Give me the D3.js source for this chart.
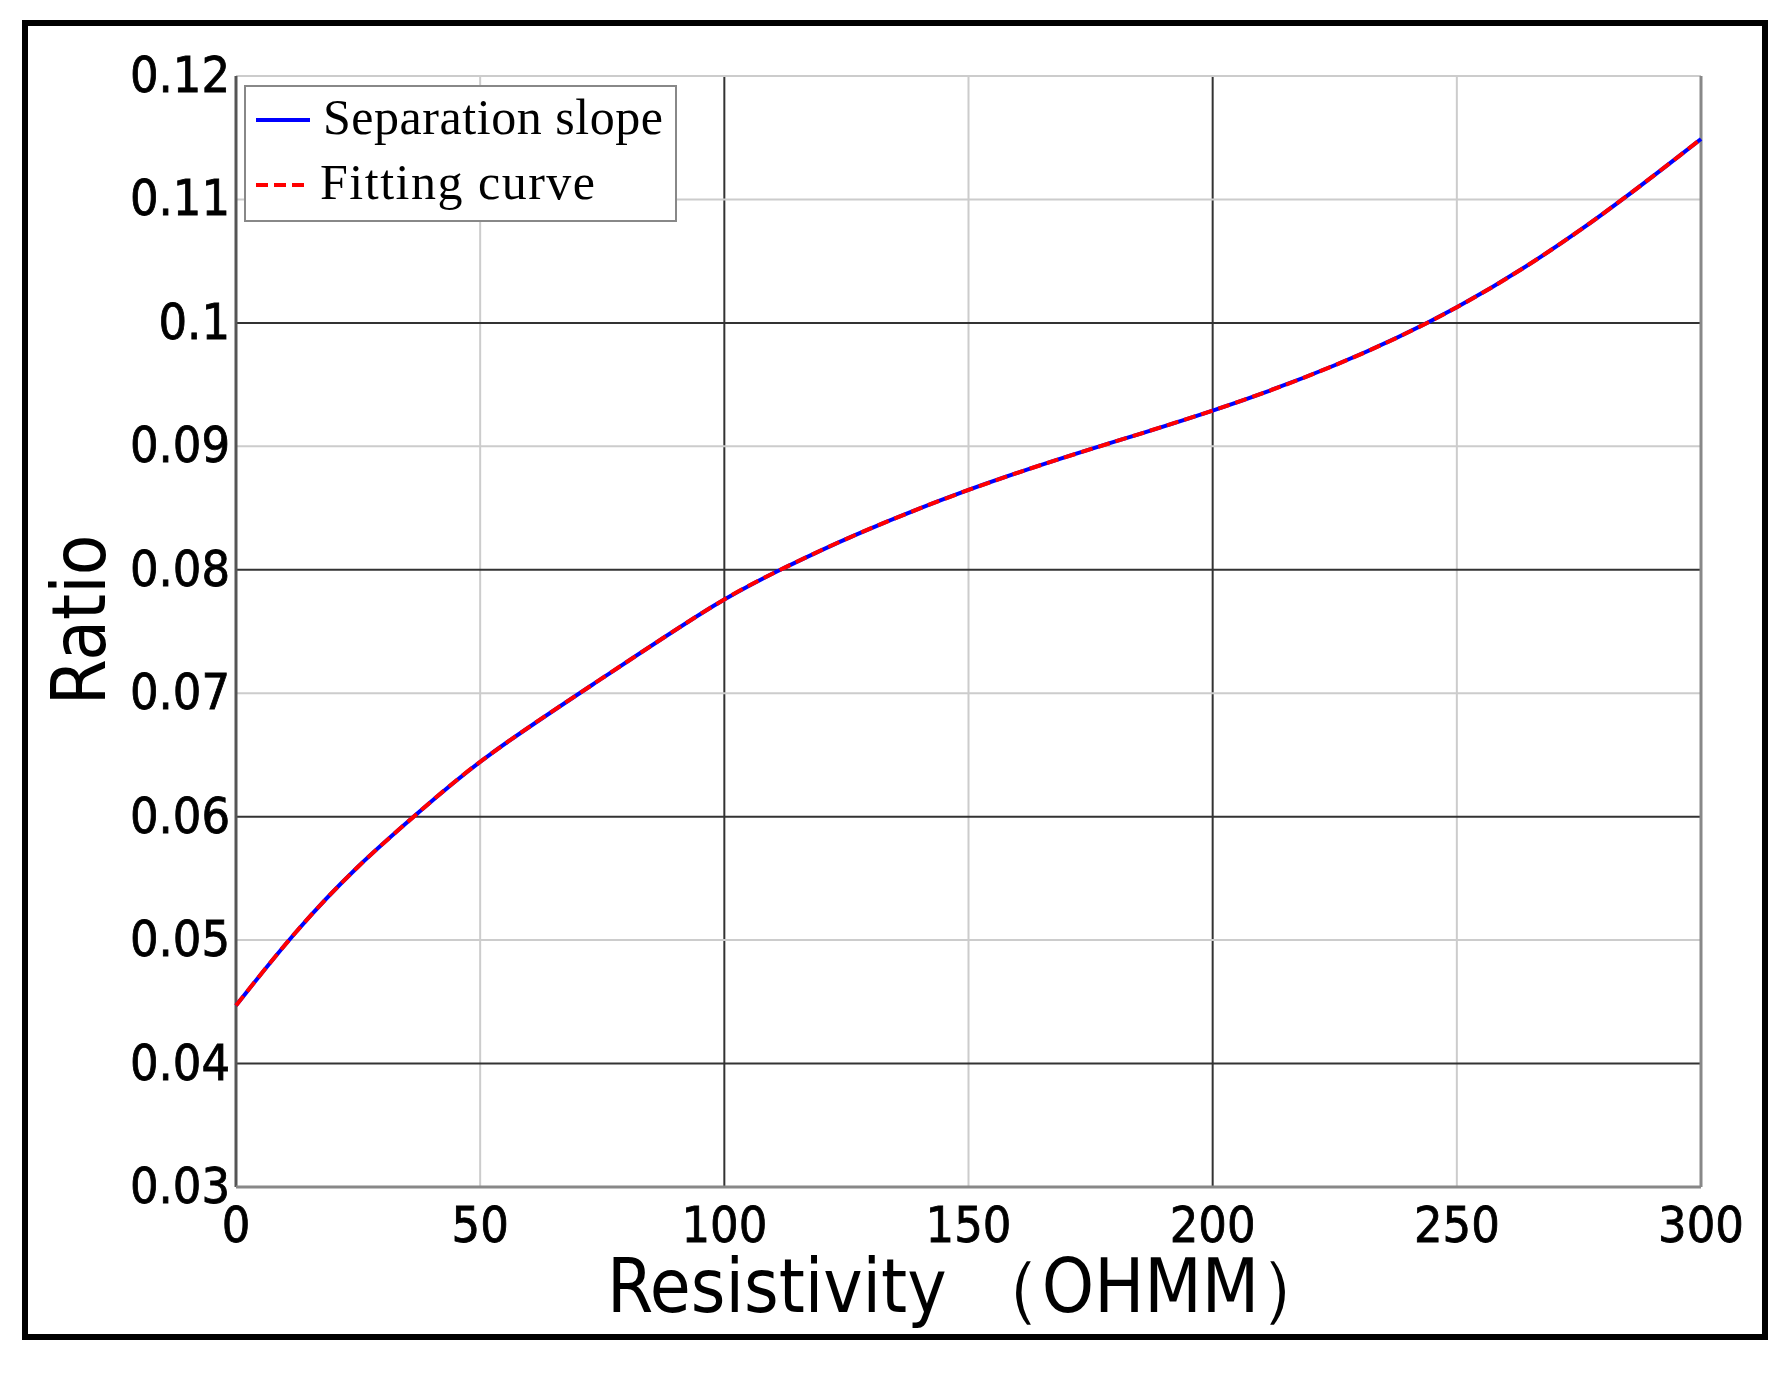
<!DOCTYPE html>
<html><head><meta charset="utf-8">
<script src="https://cdn.jsdelivr.net/npm/d3@7"></script>
<style>body{margin:0;background:#fff}</style></head>
<body><svg id="c" width="1790" height="1375"></svg>
<script>
const resistivity=[0,12,25,37,50,75,100,112,125,150,175,200,225,250,275,300];
const slope=[0.0447,0.0507,0.0561,0.0602,0.0647,0.0712,0.0778,0.0801,0.0826,0.0866,0.0898,0.0928,0.0964,0.1010,0.1072,0.1149];
const fitting=slope.slice();
const xTicks=[0,50,100,150,200,250,300];
const yTicks=[0.03,0.04,0.05,0.06,0.07,0.08,0.09,0.1,0.11,0.12];
const svg=d3.select("#c");
svg.append("rect").attr("x",25).attr("y",23).attr("width",1740).attr("height",1314).attr("fill","none").attr("stroke","#000").attr("stroke-width",6);
const L=236,R=1701,T=76,B=1187;
const x=d3.scaleLinear().domain([0,300]).range([L,R]);
const y=d3.scaleLinear().domain([0.03,0.12]).range([B,T]);
const g=svg.append("g");
xTicks.forEach(t=>{g.append("line").attr("x1",x(t)).attr("x2",x(t)).attr("y1",T).attr("y2",B).attr("stroke",(t===100||t===200)?"#333":"#ccc").attr("stroke-width",2);});
yTicks.forEach(t=>{const dark=[0.04,0.06,0.08,0.1].some(v=>Math.abs(v-t)<1e-9);g.append("line").attr("x1",L).attr("x2",R).attr("y1",y(t)).attr("y2",y(t)).attr("stroke",dark?"#333":"#ccc").attr("stroke-width",2);});
g.append("line").attr("x1",L).attr("x2",L).attr("y1",T).attr("y2",B).attr("stroke","#555").attr("stroke-width",3);
g.append("line").attr("x1",L).attr("x2",R).attr("y1",B).attr("y2",B).attr("stroke","#888").attr("stroke-width",3);
g.append("line").attr("x1",R).attr("x2",R).attr("y1",T).attr("y2",B).attr("stroke","#888").attr("stroke-width",3);
const f="'DejaVu Sans Condensed','DejaVu Sans',sans-serif";
xTicks.forEach(t=>svg.append("text").attr("x",x(t)).attr("y",B+55).attr("text-anchor","middle").attr("font-family",f).attr("font-size",50).attr("stroke","#000").attr("stroke-width",0.8).text(t));
yTicks.forEach(t=>svg.append("text").attr("x",L-6).attr("y",y(t)+16).attr("text-anchor","end").attr("font-family",f).attr("font-size",50).attr("stroke","#000").attr("stroke-width",0.8).text(String(t)));
svg.append("text").attr("x",970).attr("y",1312).attr("text-anchor","middle").attr("font-family",f).attr("font-size",74).text("Resistivity （OHMM）");
svg.append("text").attr("transform","translate(105,620) rotate(-90)").attr("text-anchor","middle").attr("font-family",f).attr("font-size",74).text("Ratio");
const line=d3.line().x((d,i)=>x(resistivity[i])).y(d=>y(d)).curve(d3.curveBasis);
svg.append("path").attr("d",line(slope)).attr("fill","none").attr("stroke","#0000ff").attr("stroke-width",4);
svg.append("path").attr("d",line(fitting)).attr("fill","none").attr("stroke","#ff0000").attr("stroke-width",4).attr("stroke-dasharray","12,6");
const lg=svg.append("g");
lg.append("rect").attr("x",245).attr("y",86).attr("width",431).attr("height",135).attr("fill","#fff").attr("stroke","#888").attr("stroke-width",2);
lg.append("line").attr("x1",256).attr("x2",310).attr("y1",120).attr("y2",120).attr("stroke","#0000ff").attr("stroke-width",4);
lg.append("line").attr("x1",256).attr("x2",310).attr("y1",185).attr("y2",185).attr("stroke","#ff0000").attr("stroke-width",4).attr("stroke-dasharray","12,6");
const sf="'Liberation Serif','DejaVu Serif',serif";
lg.append("text").attr("x",323).attr("y",134).attr("font-family",sf).attr("font-size",50).attr("textLength",340).text("Separation slope");
lg.append("text").attr("x",320).attr("y",199).attr("font-family",sf).attr("font-size",50).attr("textLength",275).text("Fitting curve");
</script></body></html>
